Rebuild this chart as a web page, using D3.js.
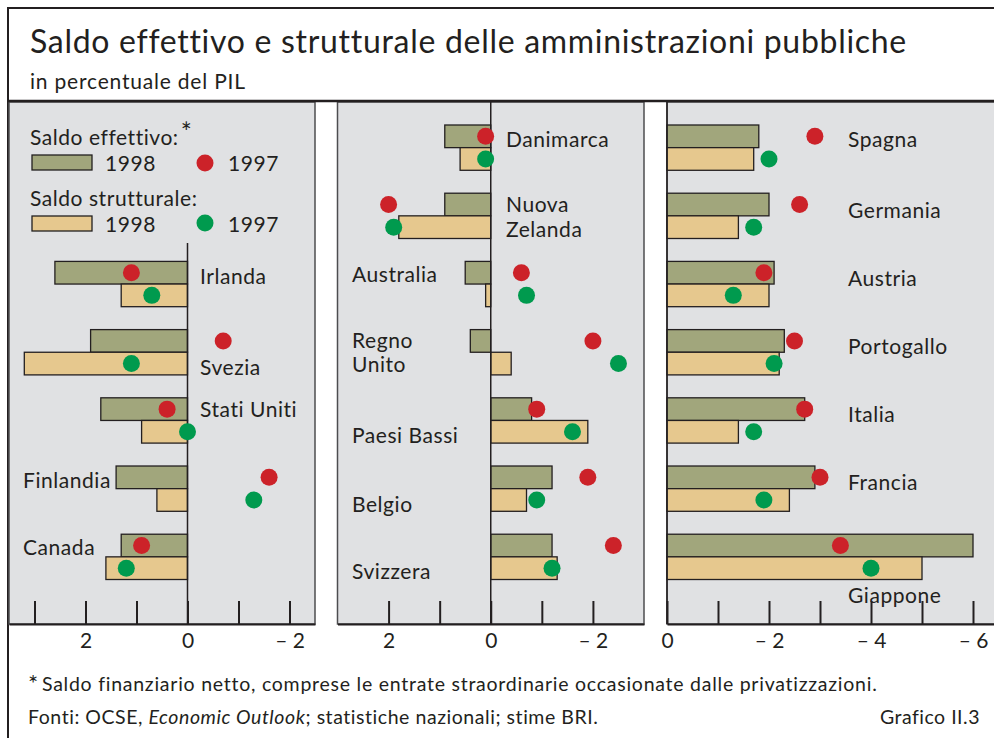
<!DOCTYPE html>
<html>
<head>
<meta charset="utf-8">
<script src="https://cdn.jsdelivr.net/npm/d3@7"></script>
<style>
  body { margin: 0; background: #fff; }
  svg { display: block; font-family: Lato, "Open Sans", sans-serif; fill: #231f20; }
</style>
</head>
<body>
<svg id="chart" width="994" height="738"></svg>
<script>
// --- data (in % of GDP; positive = surplus) ---
const countries1 = ["Irlanda", "Svezia", "Stati Uniti", "Finlandia", "Canada"];
const eff98_1 = [2.6, 1.9, 1.7, 1.4, 1.3];
const eff97_1 = [1.1, -0.7, 0.4, -1.6, 0.9];
const str98_1 = [1.3, 3.2, 0.9, 0.6, 1.6];
const str97_1 = [0.7, 1.1, 0.0, -1.3, 1.2];

const countries2 = ["Danimarca", "Nuova Zelanda", "Australia", "Regno Unito", "Paesi Bassi", "Belgio", "Svizzera"];
const eff98_2 = [0.9, 0.9, 0.5, 0.4, -0.8, -1.2, -1.2];
const eff97_2 = [0.1, 2.0, -0.6, -2.0, -0.9, -1.9, -2.4];
const str98_2 = [0.6, 1.8, 0.1, -0.4, -1.9, -0.7, -1.3];
const str97_2 = [0.1, 1.9, -0.7, -2.5, -1.6, -0.9, -1.2];

const countries3 = ["Spagna", "Germania", "Austria", "Portogallo", "Italia", "Francia", "Giappone"];
const eff98_3 = [-1.8, -2.0, -2.1, -2.3, -2.7, -2.9, -6.0];
const eff97_3 = [-2.9, -2.6, -1.9, -2.5, -2.7, -3.0, -3.4];
const str98_3 = [-1.7, -1.4, -2.0, -2.2, -1.4, -2.4, -5.0];
const str97_3 = [-2.0, -1.7, -1.3, -2.1, -1.7, -1.9, -4.0];

const tickValues1 = [3, 2, 1, 0, -1, -2];
const tickValues2 = [2, 1, 0, -1, -2];
const tickValues3 = [0, -1, -2, -3, -4, -5, -6];

// label layout: line breaks, side, baseline offset from row top
const labelLines1 = [["Irlanda"], ["Svezia"], ["Stati Uniti"], ["Finlandia"], ["Canada"]];
const labelSide1 = ["r", "r", "r", "l", "l"];
const labelDy1 = [23, 45, 19, 22, 21];
const labelLines2 = [["Danimarca"], ["Nuova", "Zelanda"], ["Australia"], ["Regno", "Unito"], ["Paesi Bassi"], ["Belgio"], ["Svizzera"]];
const labelSide2 = ["r", "r", "l", "l", "l", "l", "l"];
const labelDy2 = [22, 19, 21, 18, 45, 46, 45];
const labelLines3 = [["Spagna"], ["Germania"], ["Austria"], ["Portogallo"], ["Italia"], ["Francia"], ["Giappone"]];
const labelSide3 = ["r", "r", "r", "r", "r", "r", "r"];
const labelDy3 = [22, 25, 25, 24, 24, 24, 69];

const colEff = "#a1a67c", colStr = "#e6c88e", colRed = "#cc2229", colGreen = "#009a4e";
const panelFill = "#e0e1e3";
const fontSize = 21, spacing = 0.55;

const svg = d3.select("#chart");

// frame and title
svg.append("rect").attr("x", 8).attr("y", 8).attr("width", 1000).attr("height", 760)
   .attr("fill", "none").attr("stroke", "#231f20").attr("stroke-width", 2);
svg.append("text").attr("x", 30).attr("y", 53).attr("font-size", 32).attr("letter-spacing", 0.7)
   .text("Saldo effettivo e strutturale delle amministrazioni pubbliche");
svg.append("text").attr("x", 30).attr("y", 89).attr("font-size", 21).attr("letter-spacing", 0.8)
   .text("in percentuale del PIL");

const panelTop = 102, axisY = 624;
// row slots shared by all three panels
const y = d3.scaleBand().domain(d3.range(7)).range([125, 579.5]).paddingInner(0.336).paddingOuter(0);

function fmt(v) {
    if (v % 2 !== 0) return "";
    return v < 0 ? "\u2013 " + Math.abs(v) : String(v);
}

function drawPanel(o) {
    const x = d3.scaleLinear().domain(o.domain).range(o.range);
    const g = svg.append("g");
    const x0 = o.range[0], x1 = o.range[1];

    g.append("rect").attr("x", x0).attr("y", panelTop).attr("width", x1 - x0).attr("height", axisY - panelTop)
     .attr("fill", panelFill).attr("stroke", "#4d4d4f").attr("stroke-width", 1.5);

    const rows = o.countries.map(function(c, i) {
        return {c: c, slot: o.slot0 + i, e98: o.e98[i], e97: o.e97[i], s98: o.s98[i], s97: o.s97[i],
                lines: o.lines[i], side: o.side[i], dy: o.dy[i]};
    });
    const h = y.bandwidth() / 2;

    g.selectAll("rect.eff").data(rows).enter().append("rect").attr("class", "eff")
     .attr("x", d => Math.min(x(0), x(d.e98))).attr("width", d => Math.abs(x(d.e98) - x(0)))
     .attr("y", d => y(d.slot)).attr("height", h)
     .attr("fill", colEff).attr("stroke", "#231f20").attr("stroke-width", 1.3);
    g.selectAll("rect.str").data(rows).enter().append("rect").attr("class", "str")
     .attr("x", d => Math.min(x(0), x(d.s98))).attr("width", d => Math.abs(x(d.s98) - x(0)))
     .attr("y", d => y(d.slot) + h).attr("height", h)
     .attr("fill", colStr).attr("stroke", "#231f20").attr("stroke-width", 1.3);

    // zero line
    g.append("line").attr("x1", x(0)).attr("x2", x(0)).attr("y1", o.zeroTop).attr("y2", axisY)
     .attr("stroke", "#231f20").attr("stroke-width", 1.5);

    g.selectAll("circle.e97").data(rows).enter().append("circle")
     .attr("cx", d => x(d.e97)).attr("cy", d => y(d.slot) + h / 2).attr("r", 8.5).attr("fill", colRed);
    g.selectAll("circle.s97").data(rows).enter().append("circle")
     .attr("cx", d => x(d.s97)).attr("cy", d => y(d.slot) + h * 1.5).attr("r", 8.5).attr("fill", colGreen);

    // country labels
    const lab = g.selectAll("text.lab").data(rows).enter().append("text").attr("class", "lab")
     .attr("font-size", fontSize).attr("letter-spacing", spacing)
     .attr("x", d => d.side === "r" ? o.labelR : o.labelL)
     .attr("y", d => y(d.slot) + d.dy);
    lab.selectAll("tspan").data(d => d.lines.map(l => ({l: l, x: d.side === "r" ? o.labelR : o.labelL})))
     .enter().append("tspan").attr("x", d => d.x).attr("dy", (d, i) => i ? 24.5 : 0).text(d => d.l);

    // axis
    const axis = d3.axisBottom(x).tickValues(o.ticks).tickFormat(fmt)
        .tickSizeInner(-23).tickSizeOuter(0).tickPadding(9);
    const ag = g.append("g").attr("transform", "translate(0," + axisY + ")").call(axis);
    ag.select(".domain").attr("stroke", "#231f20").attr("stroke-width", 2);
    ag.selectAll(".tick line").attr("stroke", "#231f20").attr("stroke-width", 2);
    ag.selectAll(".tick text").attr("font-size", fontSize).attr("font-family", "Lato, sans-serif").attr("fill", "#231f20");
}

drawPanel({countries: countries1, e98: eff98_1, e97: eff97_1, s98: str98_1, s97: str97_1,
           lines: labelLines1, side: labelSide1, dy: labelDy1, slot0: 2,
           domain: [3.5, -2.5], range: [9, 315], ticks: tickValues1, zeroTop: 243, labelR: 200, labelL: 23});
drawPanel({countries: countries2, e98: eff98_2, e97: eff97_2, s98: str98_2, s97: str97_2,
           lines: labelLines2, side: labelSide2, dy: labelDy2, slot0: 0,
           domain: [3, -3], range: [337.5, 644], ticks: tickValues2, zeroTop: panelTop, labelR: 506, labelL: 352});
drawPanel({countries: countries3, e98: eff98_3, e97: eff97_3, s98: str98_3, s97: str97_3,
           lines: labelLines3, side: labelSide3, dy: labelDy3, slot0: 0,
           domain: [0, -6.5], range: [667, 998.5], ticks: tickValues3, zeroTop: panelTop, labelR: 848, labelL: 848});

// title separator drawn over panel tops
svg.append("line").attr("x1", 8).attr("x2", 994).attr("y1", 101).attr("y2", 101)
   .attr("stroke", "#231f20").attr("stroke-width", 2.5);

// legend (panel 1)
const leg = svg.append("g").attr("font-size", fontSize).attr("letter-spacing", spacing);
const t1 = leg.append("text").attr("x", 30).attr("y", 145).text("Saldo effettivo:");
t1.append("tspan").attr("dx", 2).attr("dy", -3).attr("font-size", 26).text("*");
leg.append("rect").attr("x", 32).attr("y", 155).attr("width", 60).attr("height", 15)
   .attr("fill", colEff).attr("stroke", "#231f20").attr("stroke-width", 1.3);
leg.append("text").attr("x", 105).attr("y", 171).text("1998");
leg.append("circle").attr("cx", 205).attr("cy", 163).attr("r", 8.5).attr("fill", colRed);
leg.append("text").attr("x", 228).attr("y", 171).text("1997");
leg.append("text").attr("x", 30).attr("y", 206).text("Saldo strutturale:");
leg.append("rect").attr("x", 32).attr("y", 216).attr("width", 60).attr("height", 15)
   .attr("fill", colStr).attr("stroke", "#231f20").attr("stroke-width", 1.3);
leg.append("text").attr("x", 105).attr("y", 232).text("1998");
leg.append("circle").attr("cx", 205).attr("cy", 223).attr("r", 8.5).attr("fill", colGreen);
leg.append("text").attr("x", 228).attr("y", 232).text("1997");

// footnotes
const fn = svg.append("g").attr("font-size", 19.5);
const f1 = fn.append("text").attr("x", 28).attr("y", 691).attr("letter-spacing", 0.75);
f1.append("tspan").attr("dy", 1).attr("font-size", 24).text("*");
f1.append("tspan").attr("dy", -1).attr("dx", 3).text("Saldo finanziario netto, comprese le entrate straordinarie occasionate dalle privatizzazioni.");
const f2 = fn.append("text").attr("x", 28).attr("y", 724).attr("letter-spacing", 0.55);
f2.append("tspan").text("Fonti: OCSE, ");
f2.append("tspan").attr("font-style", "italic").text("Economic Outlook");
f2.append("tspan").text("; statistiche nazionali; stime BRI.");
fn.append("text").attr("x", 980).attr("y", 724).attr("text-anchor", "end").attr("letter-spacing", 0.5).text("Grafico II.3");
</script>
</body>
</html>
